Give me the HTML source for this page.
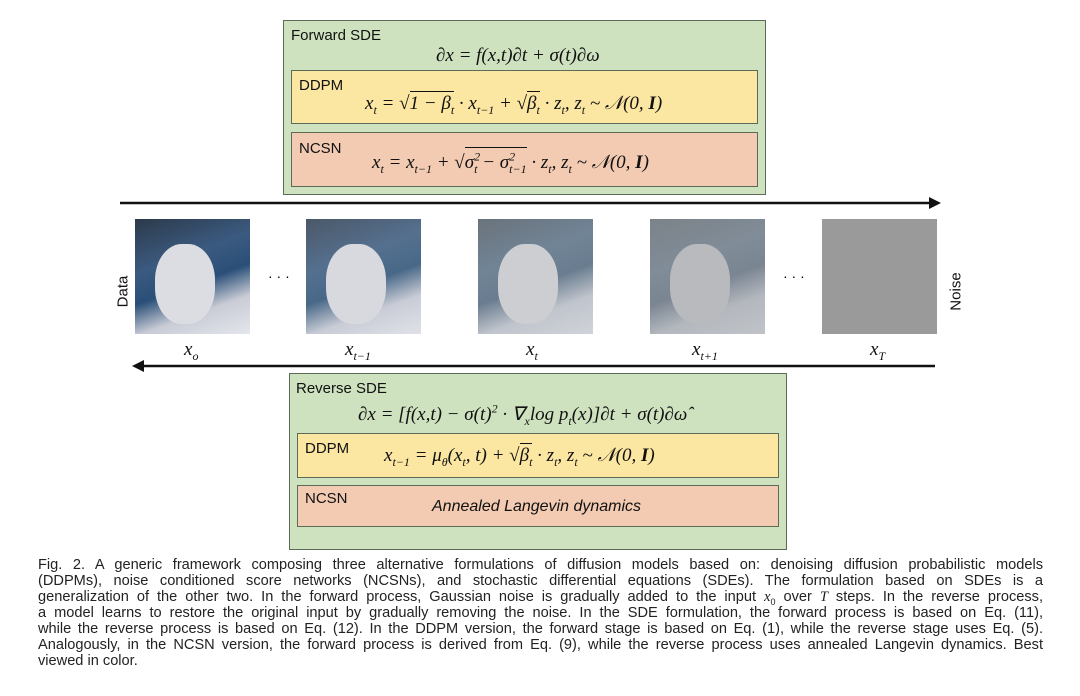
<!DOCTYPE html>
<html><head><meta charset="utf-8"><style>
*{margin:0;padding:0;box-sizing:border-box}
body{width:1080px;height:696px;background:#fff;position:relative;overflow:hidden;font-family:"Liberation Sans",sans-serif}
.a{position:absolute}
.box{position:absolute;border:1.5px solid #5c6b55}
.g{background:#cfe2c0}.y{background:#fbe6a2}.r{background:#f2cbb2}
.lab{position:absolute;font-family:"Liberation Sans",sans-serif;font-size:15px;color:#111}
.m{position:absolute;font-family:"Liberation Serif",serif;font-style:italic;font-size:19px;color:#111;white-space:nowrap;line-height:24px}
.m sub,.m sup{font-size:12px;line-height:0}
.ov{border-top:1.3px solid #111;padding-top:1px}
.img{position:absolute;width:115px;height:115px;overflow:hidden}
.cap{position:absolute;left:38px;width:1005px;font-size:14.6px;color:#222;text-align:justify;text-align-last:justify;white-space:nowrap;line-height:16px}
</style></head><body>
<div class="box g" style="left:283px;top:20px;width:483px;height:175px"></div>
<div class="lab" style="left:291px;top:27px">Forward SDE</div>
<div class="m" style="left:436px;top:44px">∂x = f(x,t)∂t + σ(t)∂ω</div>
<div class="box y" style="left:291px;top:70px;width:467px;height:54px"></div>
<div class="lab" style="left:299px;top:77px">DDPM</div>
<div class="m" style="left:365px;top:92px">x<sub>t</sub> = √<span class="ov">1 − β<sub>t</sub></span> · x<sub>t−1</sub> + √<span class="ov">β<sub>t</sub></span> · z<sub>t</sub>, z<sub>t</sub> ~ 𝒩(0, <b>I</b>)</div>
<div class="box r" style="left:291px;top:132px;width:467px;height:55px"></div>
<div class="lab" style="left:299px;top:140px">NCSN</div>
<div class="m" style="left:372px;top:151px">x<sub>t</sub> = x<sub>t−1</sub> + √<span class="ov" style="padding-top:4px">σ<sup>2</sup><sub style="margin-left:-6px">t</sub> − σ<sup>2</sup><sub style="margin-left:-6px">t−1</sub></span> · z<sub>t</sub>, z<sub>t</sub> ~ 𝒩(0, <b>I</b>)</div>

<svg class="a" style="left:0;top:0" width="1080" height="696">
<line x1="120" y1="203" x2="932" y2="203" stroke="#111" stroke-width="2.5"/>
<polygon points="941,203 929,197 929,209" fill="#111"/>
<line x1="142" y1="366" x2="935" y2="366" stroke="#111" stroke-width="2.5"/>
<polygon points="132,366 144,360 144,372" fill="#111"/>
</svg>

<div class="img" style="left:135px;top:219px;background:linear-gradient(160deg,#2c3a4a 0%,#3b5a80 35%,#2a4f78 55%,#c9ccd6 75%,#e4e6ec 100%)"><div class="a" style="left:20px;top:25px;width:60px;height:80px;border-radius:45%;background:#dcdde2"></div></div>
<div class="img" style="left:306px;top:219px;background:linear-gradient(160deg,#4b5868 0%,#55708f 35%,#486888 55%,#c9ccd6 75%,#e0e2e8 100%)"><div class="a" style="left:20px;top:25px;width:60px;height:80px;border-radius:45%;background:#d8d9de"></div></div>
<div class="img" style="left:478px;top:219px;background:linear-gradient(160deg,#6a737c 0%,#718496 35%,#6a7d90 55%,#c0c4cc 75%,#d0d3d9 100%)"><div class="a" style="left:20px;top:25px;width:60px;height:80px;border-radius:45%;background:#ccced2"></div></div>
<div class="img" style="left:650px;top:219px;background:linear-gradient(160deg,#7c8288 0%,#808c98 35%,#7a8592 55%,#b4b8be 75%,#c0c3c8 100%)"><div class="a" style="left:20px;top:25px;width:60px;height:80px;border-radius:45%;background:#b8babe"></div></div>
<div class="img" style="left:822px;top:219px;background:#9a9a9a"></div>

<div class="lab" style="left:103px;top:283px;transform:rotate(-90deg);width:40px;text-align:center">Data</div>
<div class="lab" style="left:936px;top:283px;transform:rotate(-90deg);width:40px;text-align:center">Noise</div>
<div class="a" style="left:268px;top:268px;font-size:14px">· · ·</div>
<div class="a" style="left:783px;top:268px;font-size:14px">· · ·</div>
<div class="m" style="left:184px;top:338px">x<sub>o</sub></div>
<div class="m" style="left:345px;top:338px">x<sub>t−1</sub></div>
<div class="m" style="left:526px;top:338px">x<sub>t</sub></div>
<div class="m" style="left:692px;top:338px">x<sub>t+1</sub></div>
<div class="m" style="left:870px;top:338px">x<sub>T</sub></div>

<div class="box g" style="left:289px;top:373px;width:498px;height:177px"></div>
<div class="lab" style="left:296px;top:380px">Reverse SDE</div>
<div class="m" style="left:358px;top:403px">∂x = [f(x,t) − σ(t)<sup>2</sup> · ∇<sub>x</sub>log p<sub>t</sub>(x)]∂t + σ(t)∂ω̂</div>
<div class="box y" style="left:297px;top:433px;width:482px;height:45px"></div>
<div class="lab" style="left:305px;top:440px">DDPM</div>
<div class="m" style="left:384px;top:444px">x<sub>t−1</sub> = μ<sub>θ</sub>(x<sub>t</sub>, t) + √<span class="ov">β<sub>t</sub></span> · z<sub>t</sub>, z<sub>t</sub> ~ 𝒩(0, <b>I</b>)</div>
<div class="box r" style="left:297px;top:485px;width:482px;height:42px"></div>
<div class="lab" style="left:305px;top:490px">NCSN</div>
<div class="lab" style="left:432px;top:498px;font-style:italic;font-size:16px">Annealed Langevin dynamics</div>

<div class="cap" style="top:557px">Fig. 2. A generic framework composing three alternative formulations of diffusion models based on: denoising diffusion probabilistic models</div>
<div class="cap" style="top:573px">(DDPMs), noise conditioned score networks (NCSNs), and stochastic differential equations (SDEs). The formulation based on SDEs is a</div>
<div class="cap" style="top:589px">generalization of the other two. In the forward process, Gaussian noise is gradually added to the input <i style="font-family:'Liberation Serif',serif">x</i><sub style="font-size:9px;line-height:0">0</sub> over <i style="font-family:'Liberation Serif',serif">T</i> steps. In the reverse process,</div>
<div class="cap" style="top:605px">a model learns to restore the original input by gradually removing the noise. In the SDE formulation, the forward process is based on Eq. (11),</div>
<div class="cap" style="top:621px">while the reverse process is based on Eq. (12). In the DDPM version, the forward stage is based on Eq. (1), while the reverse stage uses Eq. (5).</div>
<div class="cap" style="top:637px">Analogously, in the NCSN version, the forward process is derived from Eq. (9), while the reverse process uses annealed Langevin dynamics. Best</div>
<div class="cap" style="top:653px;text-align-last:left">viewed in color.</div>
</body></html>
